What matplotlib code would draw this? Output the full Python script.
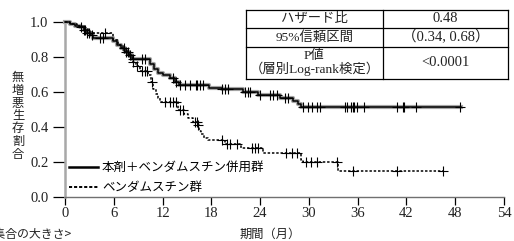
import matplotlib
matplotlib.use("Agg")
import matplotlib.pyplot as plt
import numpy as np
from matplotlib.lines import Line2D

plt.rcParams['font.family'] = ['Liberation Serif', 'Noto Sans CJK JP', 'DejaVu Sans']

# ---- data ----
combo_t = [0, 0.6, 1.2, 1.8, 2.3, 2.7, 3.1, 3.4, 5.9, 6.4, 6.9, 7.4, 7.9, 8.2, 10.5, 10.9, 11.4,
           12.1, 12.9, 13.5, 14.0, 17.7, 19.3, 21.9, 23.7, 26.4, 28.0, 28.7, 29.0]
combo_s = [1.0, 0.99, 0.98, 0.97, 0.955, 0.94, 0.925, 0.91, 0.89, 0.87, 0.85, 0.83, 0.81, 0.79, 0.76,
           0.73, 0.71, 0.695, 0.68, 0.66, 0.64, 0.625, 0.615, 0.60, 0.585, 0.567, 0.548, 0.53, 0.515]
combo_end = 48.7
combo_censor = [2.0, 2.3, 2.5, 2.7, 2.9, 3.3, 4.3, 4.7, 7.2, 7.5, 7.7, 8.0, 8.4, 9.5, 9.8, 13.3, 13.6,
                14.2, 14.8, 15.4, 16.1, 16.2, 16.6, 17.0, 19.3, 19.7, 20.0, 22.2, 22.5, 22.8, 24.0, 25.2,
                25.6, 26.1, 27.1, 27.4, 29.3, 29.9, 30.4, 31.0, 31.4, 34.4, 34.7, 35.2, 35.4, 35.5, 35.9,
                36.8, 40.8, 41.6, 41.7, 43.2, 48.6]

mono_t = [0, 0.6, 1.5, 2.2, 2.8, 3.4, 5.9, 6.5, 7.1, 7.6, 8.0, 8.4, 8.7, 9.2, 10.2, 10.6, 10.8, 11.2,
          11.4, 11.7, 13.9, 14.6, 15.1, 15.7, 16.3, 16.5, 16.7, 17.1, 17.6, 19.7, 21.6, 24.4, 29.0,
          29.3, 33.6]
mono_s = [1.0, 0.99, 0.975, 0.96, 0.945, 0.935, 0.90, 0.87, 0.84, 0.82, 0.80, 0.77, 0.75, 0.72, 0.70,
          0.66, 0.62, 0.59, 0.565, 0.545, 0.50, 0.475, 0.45, 0.43, 0.41, 0.38, 0.36, 0.34, 0.326,
          0.305, 0.28, 0.25, 0.21, 0.20, 0.149]
mono_end = 46.5
mono_censor = [4.9, 8.4, 8.9, 9.5, 9.8, 10.1, 10.7, 12.3, 12.9, 13.3, 13.7, 14.1, 14.5, 16.0, 16.2,
               16.4, 19.3, 19.9, 20.3, 21.2, 23.0, 23.4, 23.7, 27.2, 27.9, 28.5, 29.6, 30.3, 31.0,
               33.5, 35.4, 40.8, 46.5]

series_labels = ['本剤＋ベンダムスチン併用群', 'ベンダムスチン群']
x_ticks = [0, 6, 12, 18, 24, 30, 36, 42, 48, 54]
y_ticks = [0.0, 0.2, 0.4, 0.6, 0.8, 1.0]

table_rows = [['ハザード比', '0.48'],
              ['95%信頼区間', '（0.34, 0.68）'],
              ['P値\n（層別Log-rank検定）', '<0.0001']]

# ---- figure ----
W, H = 514, 241
fig = plt.figure(figsize=(W / 100, H / 100), dpi=100)

def fx(px):
    return px / W

def fy(py):
    return 1 - py / H

ax = fig.add_axes([fx(65), fy(197), fx(504) - fx(65), fy(22) - fy(197)])
ax.set_xlim(0, 54)
ax.set_ylim(0, 1.0)


def step_value(ts, ss, t):
    idx = np.searchsorted(np.array(ts), t, side='right') - 1
    return ss[idx]


# combo: gray halo + black line
ct = combo_t + [combo_end]
cs = combo_s + [combo_s[-1]]
ax.step(ct, cs, where='post', color='#a5a5a5', lw=3.0, clip_on=False, zorder=2)
ax.step(ct, cs, where='post', color='black', lw=1.1, clip_on=False, zorder=3)
ax.plot(combo_censor, [step_value(combo_t, combo_s, t) for t in combo_censor], ls='none',
        marker='+', ms=6.5, mew=0.8, color='black', zorder=4, clip_on=False)

mt = mono_t + [mono_end]
ms_ = mono_s + [mono_s[-1]]
ax.step(mt, ms_, where='post', color='black', lw=1.1, ls=(0, (1.6, 1.2)), clip_on=False, zorder=3)
ax.plot(mono_censor, [step_value(mono_t, mono_s, t) for t in mono_censor], ls='none',
        marker='+', ms=6.5, mew=0.8, color='black', zorder=4, clip_on=False)

# axes styling
for s in ['top', 'right']:
    ax.spines[s].set_visible(False)
ax.spines['left'].set_color('#a8a8a8')
ax.spines['left'].set_linewidth(1.8)
ax.spines['bottom'].set_color('#707070')
ax.spines['bottom'].set_linewidth(1.0)
ax.set_xticks(x_ticks)
ax.set_yticks(y_ticks)
ax.set_yticklabels([f'{v:.1f}' for v in y_ticks])
ax.tick_params(axis='x', direction='out', length=6, width=0.9, color='black',
               labelsize=10.5, pad=1.5, labelcolor='#222222')
ax.tick_params(axis='y', direction='out', length=9, width=0.9, color='black',
               labelsize=10.5, pad=3, labelcolor='#222222')

# legend
handles = [Line2D([], [], color='black', lw=1.8),
           Line2D([], [], color='black', lw=1.4, ls=(0, (1.6, 1.0)))]
ax.legend(handles, series_labels, loc='lower left', bbox_to_anchor=(0.01, 0.015),
          frameon=False, borderpad=0, borderaxespad=0, handlelength=2.3,
          handletextpad=0.3, labelspacing=0.6,
          prop={'family': ['Noto Sans CJK JP'], 'size': 9})

# y label (stacked vertically)
fig.text(fx(18), fy(116), '\n'.join('無増悪生存割合'), ha='center', va='center',
         family=['Noto Sans CJK JP'], fontsize=8.8, linespacing=0.97, color='#222222')

# x label
fig.text(fx(270), fy(234), '期間（月）', ha='center', va='center',
         family=['Noto Sans CJK JP'], fontsize=8.8, color='#222222')

# cut-off bottom-left note
fig.text(fx(72), fy(234), '<解析対象集合の大きさ>', ha='right', va='center',
         family=['Noto Sans CJK JP'], fontsize=8.6, color='#222222')

# table
tl, tr, tc = 246, 508, 383
row_y = [10, 28, 47, 79]
lw_t = 0.9
for py in row_y:
    fig.add_artist(Line2D([fx(tl), fx(tr)], [fy(py), fy(py)], color='black', lw=lw_t))
for px in [tl, tc, tr]:
    fig.add_artist(Line2D([fx(px), fx(px)], [fy(row_y[0]), fy(row_y[-1])], color='black', lw=lw_t))
for i, (a, b) in enumerate(table_rows):
    yc = (row_y[i] + row_y[i + 1]) / 2
    fig.text(fx((tl + tc) / 2), fy(yc), a, ha='center', va='center', fontsize=9.6,
             linespacing=0.95, family=['Liberation Serif', 'Noto Sans CJK JP'], color='#222222')
    fig.text(fx((tc + tr) / 2), fy(yc), b, ha='center', va='center', fontsize=10.5,
             family=['Liberation Serif', 'Noto Sans CJK JP'], color='#222222')

fig.savefig('out.png', dpi=100)
